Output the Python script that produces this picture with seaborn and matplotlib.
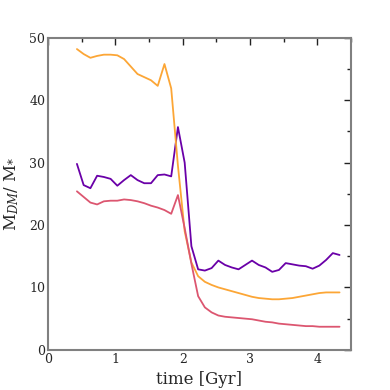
import matplotlib
matplotlib.use('Agg')
import matplotlib.pyplot as plt
import numpy as np
import pandas as pd
import seaborn as sns
from matplotlib.ticker import MultipleLocator

# time grid (Gyr), one point every 0.1 Gyr
time = [0.43 + 0.1 * i for i in range(40)]

purple = [29.8, 26.4, 25.9, 27.9, 27.7, 27.4, 26.3, 27.2, 28.0, 27.2,
          26.7, 26.7, 28.0, 28.1, 27.8, 35.7, 30.0, 16.6, 12.9, 12.7,
          13.1, 14.3, 13.6, 13.2, 12.9, 13.6, 14.3, 13.6, 13.2, 12.5,
          12.8, 13.9, 13.7, 13.5, 13.4, 13.0, 13.5, 14.4, 15.5, 15.2]

orange = [48.2, 47.4, 46.8, 47.1, 47.3, 47.3, 47.2, 46.6, 45.4, 44.2,
          43.7, 43.2, 42.3, 45.8, 41.9, 29.5, 19.0, 14.0, 11.8, 10.9,
          10.4, 10.0, 9.7, 9.4, 9.1, 8.8, 8.5, 8.3, 8.2, 8.1,
          8.1, 8.2, 8.3, 8.5, 8.7, 8.9, 9.1, 9.2, 9.2, 9.2]

pink = [25.4, 24.5, 23.6, 23.3, 23.8, 23.9, 23.9, 24.1, 24.0, 23.8,
        23.5, 23.1, 22.8, 22.4, 21.8, 24.8, 19.5, 13.8, 8.6, 6.8,
        6.0, 5.5, 5.3, 5.2, 5.1, 5.0, 4.9, 4.7, 4.5, 4.4,
        4.2, 4.1, 4.0, 3.9, 3.8, 3.8, 3.7, 3.7, 3.7, 3.7]

df = pd.concat([
    pd.DataFrame({'t': time, 'ratio': purple, 'run': 'a'}),
    pd.DataFrame({'t': time, 'ratio': orange, 'run': 'b'}),
    pd.DataFrame({'t': time, 'ratio': pink, 'run': 'c'}),
])

sns.set_style('white')
plt.rcParams['font.family'] = ['DejaVu Serif']
plt.rcParams['mathtext.fontset'] = 'dejavuserif'

fig = plt.figure(figsize=(3.9, 3.9), dpi=100)
ax = fig.add_axes([0.123, 0.103, 0.777, 0.8])

sns.lineplot(data=df, x='t', y='ratio', hue='run',
             palette={'a': '#6a00a8', 'b': '#fca636', 'c': '#dc5670'},
             linewidth=1.3, legend=False, ax=ax)

ax.set_xlim(0, 4.5)
ax.set_ylim(0, 50)
ax.xaxis.set_major_locator(MultipleLocator(1))
ax.xaxis.set_minor_locator(MultipleLocator(0.5))
ax.yaxis.set_major_locator(MultipleLocator(10))
ax.yaxis.set_minor_locator(MultipleLocator(5))
ax.tick_params(which='both', direction='in', top=True, right=True,
               labelsize=9, pad=2, color='#222222')
ax.tick_params(which='major', length=5, width=1)
ax.tick_params(which='minor', length=3, width=1)
for s in ax.spines.values():
    s.set_color('#808080')
    s.set_linewidth(1.5)

ax.set_xlabel('time [Gyr]', fontsize=12, labelpad=4)
ax.set_ylabel(r'M$_{DM}$/ M$_{*}$', fontsize=12, labelpad=6)

fig.savefig('out.png', dpi=100)
